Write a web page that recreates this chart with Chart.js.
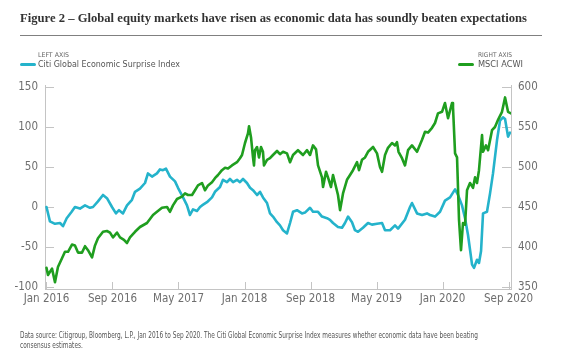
<!DOCTYPE html>
<html><head><meta charset="utf-8">
<script src="https://cdn.jsdelivr.net/npm/chart.js@4.4.1/dist/chart.umd.min.js"></script>
<style>
html,body{margin:0;padding:0;background:#fff;width:571px;height:355px;overflow:hidden;}
#wrap{position:relative;width:571px;height:355px;}
#c{position:absolute;left:0;top:0;}
.t{position:absolute;white-space:nowrap;line-height:1;transform-origin:0 0;}
#title{font-family:"Liberation Serif","DejaVu Serif",serif;font-weight:bold;color:#333;font-size:13px;}
#rule{position:absolute;left:20px;top:35px;width:522px;height:0;border-top:1px solid #808080;}
.narrow{font-family:"Liberation Sans Narrow","DejaVu Sans Condensed","Liberation Sans",sans-serif;}
.axlab{font-size:6.5px;color:#666;}
.leg{font-size:9.5px;color:#555;}
.note{font-size:8.5px;color:#555;}
.sw{position:absolute;height:3px;border-radius:2px;}
</style></head>
<body><div id="wrap">
<canvas id="c" width="571" height="355"></canvas>
<div id="title" class="t">Figure 2 – Global equity markets have risen as economic data has soundly beaten expectations</div>
<div id="rule"></div>
<div id="laxis" class="t narrow axlab">LEFT AXIS</div>
<div id="raxis" class="t narrow axlab">RIGHT AXIS</div>
<div id="swL" class="sw" style="left:20px;top:62.5px;width:16px;background:#24b3cb"></div>
<div id="swR" class="sw" style="left:458px;top:62.5px;width:16px;background:#1f9e1f"></div>
<div id="legL" class="t narrow leg">Citi Global Economic Surprise Index</div>
<div id="legR" class="t narrow leg">MSCI ACWI</div>
<div id="note1" class="t narrow note">Data source: Citigroup, Bloomberg, L.P., Jan 2016 to Sep 2020. The Citi Global Economic Surprise Index measures whether economic data have been beating</div>
<div id="note2" class="t narrow note">consensus estimates.</div>
</div>
<script>
// ---- data (x = months since Jan 2016) ----
const monthTickValues = [0, 8, 16, 24, 32, 40, 48, 56];
const monthTickLabels = ['Jan 2016','Sep 2016','May 2017','Jan 2018','Sep 2018','May 2019','Jan 2020','Sep 2020'];
const leftTicks = [-100, -50, 0, 50, 100, 150];
const rightTicks = [350, 400, 450, 500, 550, 600];

const citiMonths = [0,0.42,1.03,1.64,2.0,2.45,3.05,3.45,4.06,4.67,5.27,5.64,6.24,6.85,7.33,7.94,8.42,8.79,9.27,9.76,10.36,10.73,11.33,11.94,12.3,12.79,13.39,13.76,14.12,14.48,14.97,15.58,15.94,16.55,17.03,17.39,17.76,18.24,18.61,18.85,19.45,20.06,20.42,21.03,21.39,21.88,22.24,22.61,23.09,23.45,23.82,24.3,24.67,25.03,25.52,25.88,26.24,26.73,27.09,27.45,27.94,28.3,28.67,29.15,29.52,29.88,30.36,30.97,31.33,31.94,32.3,32.91,33.39,34.0,34.36,34.73,35.33,35.82,36.18,36.55,37.03,37.39,37.76,38.36,38.97,39.45,40.06,40.67,41.03,41.64,42.24,42.61,43.45,44.06,44.3,44.91,45.52,46.12,46.48,47.09,47.7,48.3,48.91,49.52,49.88,50.36,50.73,51.09,51.58,51.82,52.18,52.42,52.67,52.91,53.39,53.76,54.12,54.61,54.97,55.33,55.58,55.94,56.18];
const citiValues = [0,-18,-21,-20,-24,-14,-6,0,-2,2,-1,0,7,15,11,0,-8,-4,-8,2,9,19,23,30,42,38,42,47,46,48,38,32,24,12,2,-10,-3,-5,0,2,6,12,19,25,34,31,35,31,34,31,35,30,24,21,15,19,12,5,-8,-12,-19,-23,-29,-33,-20,-6,-4,-8,-7,-1,-6,-6,-12,-14,-16,-20,-25,-26,-20,-12,-19,-29,-31,-26,-20,-22,-21,-20,-29,-29,-23,-27,-16,0,5,-8,-10,-8,-10,-12,-6,8,12,22,15,2,-14,-35,-72,-76,-66,-70,-55,-8,-6,17,42,84,108,112,110,88,93];

const acwiMonths = [0,0.18,0.67,1.03,1.39,1.88,2.24,2.61,3.09,3.45,3.82,4.3,4.67,5.03,5.52,5.88,6.24,6.85,7.33,7.7,8.06,8.55,8.91,9.39,9.76,10.12,10.73,11.33,12.18,12.91,13.39,14.0,14.61,14.97,15.33,15.82,16.42,16.79,17.15,17.64,18.0,18.36,18.85,19.21,19.58,20.06,20.42,20.79,21.27,21.64,22.0,22.48,23.09,23.45,23.7,24.06,24.42,24.55,24.79,25.03,25.15,25.27,25.52,25.76,26.0,26.24,26.36,26.73,27.09,27.45,27.94,28.3,28.67,29.15,29.52,29.88,30.48,31.09,31.58,31.94,32.3,32.67,32.91,33.39,33.52,33.88,34.12,34.48,34.73,35.09,35.33,35.58,35.94,36.42,36.79,37.15,37.64,37.88,38.24,38.61,38.97,39.58,40.06,40.42,40.67,41.03,41.39,41.88,42.24,42.48,42.67,43.09,43.45,43.82,44.3,44.91,45.52,45.88,46.24,46.73,47.09,47.45,47.94,48.3,48.67,49.15,49.27,49.52,49.76,50.0,50.24,50.48,50.73,50.97,51.33,51.7,51.94,52.18,52.42,52.79,52.91,53.27,53.52,54.0,54.36,54.73,55.21,55.58,55.94,56.3];
const acwiValues = [374,365,373,356,375,386,394,394,403,402,393,393,401,396,387,402,411,419,420,418,412,418,412,409,405,412,419,425,430,440,444,449,450,444,452,460,463,467,465,465,471,477,480,471,477,481,486,490,496,499,498,502,506,511,515,530,542,551,537,512,502,521,525,512,525,519,502,509,511,515,520,516,519,517,506,515,521,515,521,515,527,522,502,487,475,494,487,475,490,475,465,446,467,484,490,496,506,496,509,512,519,525,517,500,494,515,524,530,527,531,519,511,502,521,527,519,534,544,543,549,555,567,569,580,561,580,575,517,512,434,396,430,428,471,480,474,487,480,496,540,519,527,521,546,550,559,569,587,569,567];

// ---- styling ----
const CYAN = '#24b3cb';
const GREEN = '#1f9e1f';
const AXIS_COLOR = '#c4c4c4';
const TICK_COLOR = '#6e6e6e';
const TICK_FONT = {family: "'Liberation Sans Narrow','DejaVu Sans Condensed','Liberation Sans',sans-serif", size: 11.5};

function toPoints(xs, ys){ return xs.map((x,i)=>({x:x, y:ys[i]})); }
function setTicks(list){ return function(scale){ scale.ticks = list.map(v=>({value:v})); }; }

const inwardTicks = {
  id: 'inwardTicks',
  beforeDatasetsDraw(chart){
    const {ctx, chartArea:a, scales} = chart;
    ctx.save();
    ctx.strokeStyle = AXIS_COLOR; ctx.lineWidth = 1;
    ctx.beginPath();
    scales.x.ticks.forEach(t=>{ const p = Math.round(scales.x.getPixelForValue(t.value))+0.5; ctx.moveTo(p, a.bottom); ctx.lineTo(p, a.bottom-7); });
    scales.yL.ticks.forEach(t=>{ const p = Math.round(scales.yL.getPixelForValue(t.value))+0.5; ctx.moveTo(a.left, p); ctx.lineTo(a.left+9, p); });
    scales.yR.ticks.forEach(t=>{ const p = Math.round(scales.yR.getPixelForValue(t.value))+0.5; ctx.moveTo(a.right, p); ctx.lineTo(a.right-9, p); });
    ctx.stroke();
    ctx.restore();
  }
};

new Chart(document.getElementById('c'), {
  type: 'line',
  data: {
    datasets: [
      {label:'MSCI ACWI', data: toPoints(acwiMonths, acwiValues), yAxisID:'yR', borderColor: GREEN, backgroundColor: GREEN},
      {label:'Citi Global Economic Surprise Index', data: toPoints(citiMonths, citiValues), yAxisID:'yL', borderColor: CYAN, backgroundColor: CYAN}
    ]
  },
  options: {
    responsive: false, animation: false, devicePixelRatio: 1,
    layout: {padding: {left:0, right:0, top:85, bottom:46}},
    plugins: {legend:{display:false}, tooltip:{enabled:false}},
    elements: {point:{radius:0}, line:{tension:0, borderWidth:2.6, borderJoinStyle:'round', borderCapStyle:'round', fill:false}},
    scales: {
      x: {
        type:'linear', min:-0.18, max:56.3,
        afterBuildTicks: setTicks(monthTickValues),
        ticks: {autoSkip:false, maxRotation:0, padding:3, color:TICK_COLOR, font:TICK_FONT,
                callback:(v,i)=>monthTickLabels[i]},
        grid: {display:true, drawOnChartArea:false, drawTicks:false},
        border: {display:true, color:AXIS_COLOR},
        afterFit(s){ s.height = 20; }
      },
      yL: {
        type:'linear', position:'left', min:-102.5, max:152.5,
        afterBuildTicks: setTicks(leftTicks),
        ticks: {padding:7, color:TICK_COLOR, font:TICK_FONT},
        grid: {display:true, drawOnChartArea:false, drawTicks:false},
        border: {display:true, color:AXIS_COLOR},
        afterFit(s){ s.width = 45; }
      },
      yR: {
        type:'linear', position:'right', min:347.5, max:602.5,
        afterBuildTicks: setTicks(rightTicks),
        ticks: {padding:7, color:TICK_COLOR, font:TICK_FONT},
        grid: {display:true, drawOnChartArea:false, drawTicks:false},
        border: {display:true, color:AXIS_COLOR},
        afterFit(s){ s.width = 60; }
      }
    }
  },
  plugins: [inwardTicks]
});

// ---- text placement: x, baseline, target width ----
function place(id, x, baseline, targetW, sx){
  const el = document.getElementById(id);
  const fs = parseFloat(getComputedStyle(el).fontSize);
  el.style.left = x + 'px';
  el.style.top = (baseline - 0.845*fs) + 'px';
  let s = sx;
  if (targetW){ s = targetW / el.getBoundingClientRect().width; }
  if (s) el.style.transform = 'scaleX(' + s + ')';
  return s;
}
place('title', 20, 22, 507);
place('laxis', 38, 57.5, 31);
place('raxis', 478, 57.5, 34);
place('legL', 38, 67.5, 142);
place('legR', 478, 67.5, 45);
const ns = place('note1', 20, 338, 458);
place('note2', 20, 348, null, ns);
</script>
</body></html>
